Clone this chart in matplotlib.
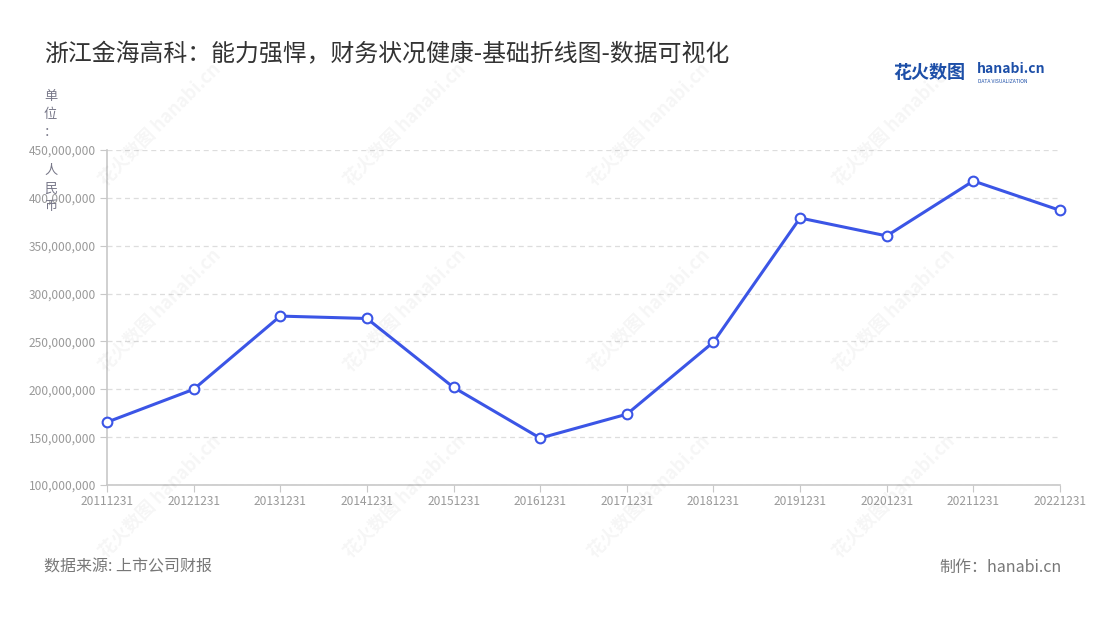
import matplotlib.pyplot as plt
from matplotlib.ticker import FuncFormatter

plt.rcParams["font.family"] = ["Noto Sans CJK SC", "DejaVu Sans"]

# 数据
dates = ["20111231", "20121231", "20131231", "20141231", "20151231", "20161231",
         "20171231", "20181231", "20191231", "20201231", "20211231", "20221231"]
values = [165.7e6, 200.0e6, 276.5e6, 274.0e6, 202.0e6, 149.0e6,
          174.0e6, 249.3e6, 379.0e6, 360.3e6, 417.7e6, 387.0e6]

title = "浙江金海高科：能力强悍，财务状况健康-基础折线图-数据可视化"
source = "数据来源: 上市公司财报"
maker = "制作：hanabi.cn"

fig = plt.figure(figsize=(11, 6.2), dpi=100)
ax = fig.add_axes([0.0973, 0.2177, 0.8663, 0.5403])

# watermarks
for wx in [0.145, 0.368, 0.59, 0.813]:
    for wy in [0.80, 0.50, 0.20]:
        fig.text(wx, wy, "花火数图 hanabi.cn", rotation=45, fontsize=13,
                 color="#000000", alpha=0.04, ha="center", va="center",
                 fontweight="bold", zorder=0)

x = list(range(len(dates)))
ax.plot(x, values, color="#3b55e6", lw=2.2, marker="o", markersize=7,
        markerfacecolor="white", markeredgecolor="#3b55e6", markeredgewidth=1.5,
        zorder=3, clip_on=False)

ax.set_xlim(0, len(dates) - 1)
ax.set_ylim(100e6, 450e6)
ax.set_yticks([100e6 + i * 50e6 for i in range(8)])
ax.yaxis.set_major_formatter(FuncFormatter(lambda v, p: f"{int(v):,}"))
ax.set_xticks(x)
ax.set_xticklabels(dates)

ax.grid(axis="y", color="#dddddd", linestyle=(0, (4, 3)), lw=0.9)
ax.set_axisbelow(True)
for s in ["top", "right"]:
    ax.spines[s].set_visible(False)
for s in ["left", "bottom"]:
    ax.spines[s].set_color("#c8c8c8")
    ax.spines[s].set_linewidth(1.2)
ax.tick_params(axis="both", colors="#c8c8c8", labelcolor="#999999",
               labelsize=8.6, length=5)
ax.tick_params(axis="y", pad=3)
ax.tick_params(axis="x", pad=2)

# title and notes
fig.text(0.04, 0.912, title, fontsize=17.2, color="#333333", va="center")
fig.text(0.046, 0.855, "单\n位\n：", fontsize=9.5, color="#777788",
         va="top", ha="center", linespacing=1.5)
fig.text(0.046, 0.735, "人\n民\n币", fontsize=9.5, color="#777788",
         va="top", ha="center", linespacing=1.5)
fig.text(0.04, 0.085, source, fontsize=11.5, color="#777777", va="center")
fig.text(0.965, 0.085, maker, fontsize=11.5, color="#777777", va="center", ha="right")

# logo
fig.text(0.812, 0.883, "花火数图", fontsize=13, color="#1d4fa8",
         fontweight="bold", va="center")
fig.text(0.888, 0.888, "hanabi.cn", fontsize=10, color="#1d4fa8",
         fontweight="bold", va="center")
fig.text(0.889, 0.868, "DATA VISUALIZATION", fontsize=3.6, color="#1d4fa8",
         va="center")

fig.savefig("out.png", dpi=100, facecolor="white")
